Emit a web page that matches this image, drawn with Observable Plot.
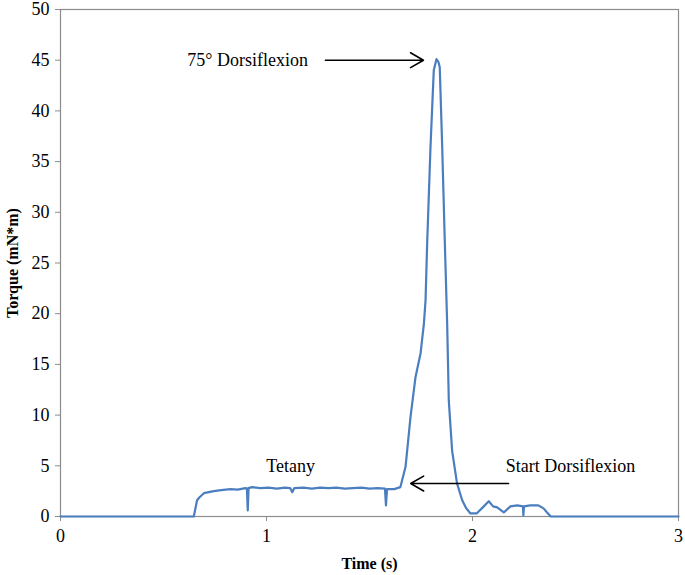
<!DOCTYPE html>
<html>
<head>
<meta charset="utf-8">
<script src="https://cdn.jsdelivr.net/npm/d3@7"></script>
<script src="https://cdn.jsdelivr.net/npm/@observablehq/plot@0.6"></script>
<style>
  body { margin: 0; background: #fff; }
  #chart svg { font-family: "Liberation Serif", "Times New Roman", serif; }
</style>
</head>
<body>
<div id="chart"></div>
<script>
const time = [0, 0.3, 0.647, 0.663, 0.675, 0.696, 0.72, 0.744, 0.78, 0.825, 0.86, 0.898, 0.905, 0.909, 0.913, 0.93,
  0.97, 1.01, 1.05, 1.09, 1.115, 1.125, 1.135, 1.18, 1.22, 1.26, 1.30, 1.34, 1.38, 1.42, 1.46, 1.50, 1.54, 1.575, 1.58, 1.585,
  1.62, 1.65, 1.675, 1.699, 1.723, 1.748, 1.764, 1.772, 1.78, 1.796, 1.812, 1.825, 1.835, 1.841, 1.853, 1.864, 1.877, 1.885,
  1.901, 1.925, 1.95, 1.97, 1.99, 2.02, 2.05, 2.079, 2.1, 2.12, 2.152, 2.184, 2.217, 2.245, 2.247, 2.25, 2.28, 2.32, 2.345,
  2.362, 2.38, 3];
const torque = [0, 0, 0, 1.6, 1.9, 2.3, 2.4, 2.5, 2.6, 2.7, 2.65, 2.8, 2.75, 0.6, 2.8, 2.9,
  2.8, 2.85, 2.75, 2.85, 2.8, 2.4, 2.8, 2.85, 2.75, 2.85, 2.8, 2.85, 2.75, 2.8, 2.85, 2.75, 2.8, 2.75, 1.1, 2.7,
  2.7, 2.9, 4.9, 9.8, 13.7, 16.1, 19, 21.3, 27, 36.4, 44, 45.1, 44.8, 44.3, 36.4, 28.2, 19, 11.4,
  6.5, 3.25, 1.6, 0.8, 0.3, 0.3, 0.9, 1.5, 1.0, 0.9, 0.4, 1.0, 1.1, 1.0, 0.1, 1.0, 1.1, 1.1, 0.8,
  0.4, 0, 0];

const xTicks = [0, 1, 2, 3];
const yTicks = [0, 5, 10, 15, 20, 25, 30, 35, 40, 45, 50];

const labelText = ["75° Dorsiflexion", "Tetany", "Start Dorsiflexion"];
const labelX = [0.908, 1.117, 2.476];
const labelY = [45, 5.0, 5.0];

const arrowX1 = [1.286, 2.175];
const arrowY1 = [45, 3.25];
const arrowX2 = [1.762, 1.7];
const arrowY2 = [45, 3.25];

const series = time.map((t, i) => ({t, v: torque[i]}));
const labels = labelText.map((s, i) => ({s, x: labelX[i], y: labelY[i]}));
const arrows = arrowX1.map((x1, i) => ({x1, y1: arrowY1[i], x2: arrowX2[i], y2: arrowY2[i]}));

const chart = Plot.plot({
  width: 685,
  height: 575,
  marginLeft: 60,
  marginRight: 7,
  marginTop: 9,
  marginBottom: 59,
  style: {fontFamily: "Liberation Serif, Times New Roman, serif", fontSize: "17px", color: "#000", background: "#fff"},
  x: {domain: [0, 3]},
  y: {domain: [0, 50]},
  marks: [
    Plot.frame({stroke: "#8c8c8c", strokeWidth: 1.2}),
    Plot.axisX({ticks: xTicks, tickFormat: "d", tickSize: 5, tickPadding: 8, stroke: "#8c8c8c", label: "Time (s)", labelAnchor: "center", labelArrow: "none", labelOffset: 52, fontSize: 18}),
    Plot.axisY({ticks: yTicks, tickFormat: "d", tickSize: 5, tickPadding: 6, stroke: "#8c8c8c", label: "Torque (mN*m)", labelAnchor: "center", labelArrow: "none", labelOffset: 54, fontSize: 18}),
    Plot.line(series, {x: "t", y: "v", stroke: "#4a7ebf", strokeWidth: 2.2, curve: "linear"}),
    Plot.arrow(arrows, {x1: "x1", y1: "y1", x2: "x2", y2: "y2", stroke: "#000", strokeWidth: 1.6, headLength: 14, bend: 0}),
    Plot.text(labels, {x: "x", y: "y", text: "s", textAnchor: "middle", fontSize: 18, fill: "#000"})
  ]
});
document.getElementById("chart").appendChild(chart);
d3.select(chart).selectAll("g[aria-label='x-axis label'] text, g[aria-label='y-axis label'] text")
  .style("font-weight", "bold").style("font-size", "16px");
</script>
</body>
</html>
